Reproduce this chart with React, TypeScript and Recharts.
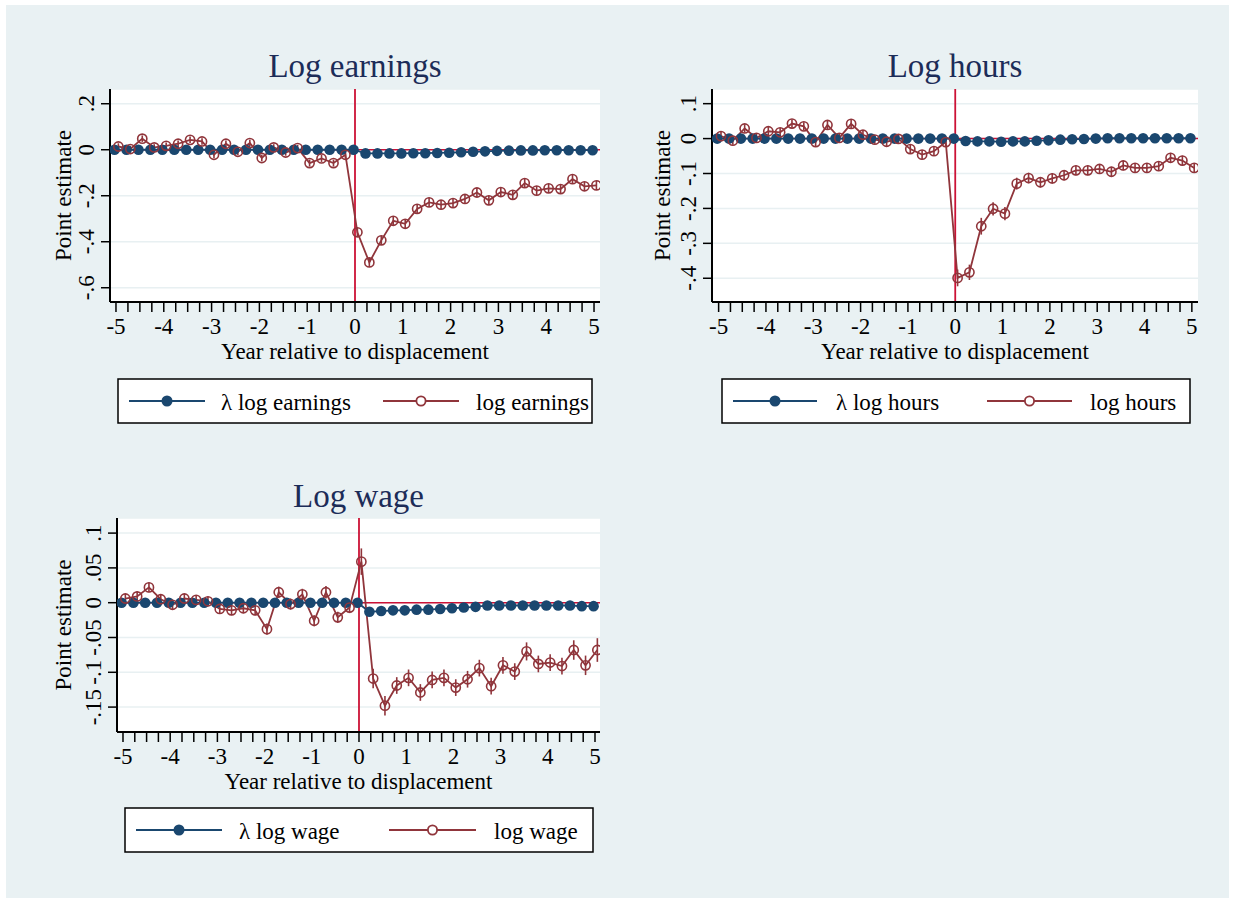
import React from 'react';
import { CartesianGrid, ErrorBar, Line, LineChart, ReferenceLine, XAxis, YAxis } from 'recharts';

// quarters relative to displacement
const quarters = [
  -5, -4.75, -4.5, -4.25, -4, -3.75, -3.5, -3.25, -3, -2.75, -2.5, -2.25, -2, -1.75, -1.5, -1.25, -1, -0.75, -0.5, -0.25,
  0, 0.25, 0.5, 0.75, 1, 1.25, 1.5, 1.75, 2, 2.25, 2.5, 2.75, 3, 3.25, 3.5, 3.75, 4, 4.25, 4.5, 4.75, 5,
];

// log earnings
const earnLambda = [
  0, 0, 0, 0, 0, 0, 0, 0, 0, 0, 0, 0, 0, 0, 0, 0, 0, 0, 0, 0,
  0, -0.016, -0.016, -0.016, -0.016, -0.015, -0.015, -0.014, -0.013, -0.011, -0.009, -0.007, -0.005, -0.004, -0.003, -0.003, -0.002, -0.002, -0.002, -0.002, -0.002,
];
const earnEst = [
  0.014, 0.003, 0.048, 0.01, 0.017, 0.026, 0.043, 0.036, -0.022, 0.026, -0.009, 0.029, -0.036, 0.01, -0.012, 0.007, -0.058, -0.038, -0.058, -0.022,
  -0.359, -0.49, -0.394, -0.309, -0.322, -0.257, -0.229, -0.239, -0.232, -0.214, -0.186, -0.22, -0.184, -0.196, -0.145, -0.178, -0.168, -0.171, -0.128, -0.159, -0.155,
];
const earnCi = [
  0.014, 0.014, 0.014, 0.014, 0.014, 0.014, 0.014, 0.014, 0.014, 0.014, 0.014, 0.014, 0.014, 0.014, 0.014, 0.014, 0.015, 0.015, 0.015, 0.015,
  0.02, 0.02, 0.02, 0.02, 0.02, 0.02, 0.02, 0.02, 0.02, 0.02, 0.02, 0.02, 0.02, 0.02, 0.02, 0.02, 0.02, 0.02, 0.02, 0.02, 0.02,
];

// log hours
const hoursLambda = [
  0, 0, 0, 0, 0, 0, 0, 0, 0, 0, 0, 0, 0, 0, 0, 0, 0, 0, 0, 0,
  0, -0.007, -0.008, -0.008, -0.009, -0.008, -0.008, -0.006, -0.005, -0.003, -0.002, -0.001, 0, 0.001, 0.001, 0.001, 0.001, 0.001, 0.001, 0.001, 0.001,
];
const hoursEst = [
  0.007, -0.006, 0.029, 0.002, 0.021, 0.018, 0.043, 0.035, -0.01, 0.039, 0.002, 0.042, 0.011, -0.003, -0.009, -0.001, -0.03, -0.046, -0.036, -0.01,
  -0.399, -0.383, -0.251, -0.201, -0.215, -0.129, -0.113, -0.125, -0.114, -0.105, -0.091, -0.091, -0.087, -0.095, -0.077, -0.084, -0.084, -0.079, -0.055, -0.063, -0.084,
];
const hoursCi = [
  0.012, 0.012, 0.012, 0.012, 0.012, 0.012, 0.012, 0.012, 0.012, 0.012, 0.012, 0.012, 0.012, 0.012, 0.012, 0.012, 0.013, 0.013, 0.013, 0.013,
  0.024, 0.022, 0.024, 0.019, 0.019, 0.017, 0.015, 0.015, 0.015, 0.014, 0.014, 0.014, 0.014, 0.014, 0.014, 0.014, 0.014, 0.014, 0.014, 0.014, 0.014,
];

// log wage
const wageLambda = [
  0, 0, 0, 0, 0, 0, 0, 0, 0, 0, 0, 0, 0, 0, 0, 0, 0, 0, 0, 0,
  0, -0.013, -0.012, -0.011, -0.011, -0.01, -0.01, -0.009, -0.008, -0.007, -0.006, -0.004, -0.004, -0.004, -0.004, -0.004, -0.004, -0.004, -0.004, -0.005, -0.005,
];
const wageEst = [
  0.006, 0.009, 0.022, 0.005, -0.003, 0.006, 0.004, 0.002, -0.009, -0.011, -0.008, -0.011, -0.038, 0.015, -0.002, 0.012, -0.026, 0.015, -0.021, -0.007,
  0.059, -0.109, -0.148, -0.119, -0.108, -0.129, -0.111, -0.108, -0.122, -0.11, -0.094, -0.12, -0.09, -0.099, -0.07, -0.088, -0.086, -0.091, -0.068, -0.09, -0.068,
];
const wageCi = [
  0.007, 0.007, 0.007, 0.007, 0.007, 0.007, 0.007, 0.007, 0.007, 0.007, 0.007, 0.007, 0.008, 0.008, 0.008, 0.008, 0.008, 0.009, 0.008, 0.008,
  0.019, 0.014, 0.014, 0.012, 0.012, 0.012, 0.012, 0.012, 0.012, 0.012, 0.012, 0.012, 0.012, 0.012, 0.013, 0.012, 0.012, 0.012, 0.014, 0.014, 0.017,
];

const earnTicks = [-0.6, -0.4, -0.2, 0, 0.2];
const hoursTicks = [-0.4, -0.3, -0.2, -0.1, 0, 0.1];
const wageTicks = [-0.15, -0.1, -0.05, 0, 0.05, 0.1];

const FONT = '"Liberation Serif", "Times New Roman", serif';
const NAVY = '#1a476f';
const MAROON = '#90353b';
const CRIMSON = '#cc1236';
const TITLE = '#1c2c58';
const GRID = '#e8f0f2';
const BG = '#e9f1f3';

// small horizontal offsets, the two series sit slightly apart in the original
const BLUE_SHIFT = -0.03;
const RED_SHIFT = 0.05;

const fmt = (v: number) =>
  v === 0 ? '0' : (v < 0 ? '-' : '') + String(Math.abs(v)).replace(/^0\./, '.');

const XTick = (props: any) => {
  const { x, y, payload } = props;
  if (!Number.isInteger(payload.value)) return null;
  return (
    <text x={x} y={y + 20} textAnchor="middle" fontFamily={FONT} fontSize={23} fill="#000">
      {payload.value}
    </text>
  );
};

const YTick = (props: any) => {
  const { x, y, payload } = props;
  return (
    <text x={x} y={y} transform={`rotate(-90 ${x} ${y})`} textAnchor="middle" fontFamily={FONT} fontSize={23} fill="#000">
      {fmt(payload.value)}
    </text>
  );
};

type Box = { left: number; top: number; width: number; height: number };

interface PanelProps {
  plot: Box;
  xDomain: [number, number];
  yDomain: [number, number];
  yTicks: number[];
  lambda: number[];
  est: number[];
  ci: number[];
}

const Panel: React.FC<PanelProps> = ({ plot, xDomain, yDomain, yTicks, lambda, est, ci }) => {
  const blue = quarters.map((q, i) => ({ x: q + BLUE_SHIFT, y: lambda[i] }));
  const red = quarters.map((q, i) => ({ x: q + RED_SHIFT, y: est[i], ci: ci[i] }));

  return (
    <div style={{ position: 'absolute', left: plot.left - 60, top: plot.top - 10 }}>
      <LineChart
        width={plot.width + 70}
        height={plot.height + 50}
        margin={{ top: 10, right: 10, bottom: 0, left: 0 }}
      >
        <CartesianGrid vertical={false} stroke={GRID} strokeWidth={1.5} fill="#ffffff" fillOpacity={1} />
        <XAxis
          type="number"
          dataKey="x"
          domain={xDomain}
          ticks={quarters}
          interval={0}
          allowDataOverflow
          height={40}
          tickSize={10}
          tickLine={{ stroke: '#000', strokeWidth: 1.5 }}
          axisLine={{ stroke: '#000', strokeWidth: 2 }}
          tick={<XTick />}
        />
        <YAxis
          type="number"
          domain={yDomain}
          ticks={yTicks}
          interval={0}
          allowDataOverflow
          width={60}
          tickSize={9}
          tickMargin={7}
          tickLine={{ stroke: '#000', strokeWidth: 1.5 }}
          axisLine={{ stroke: '#000', strokeWidth: 2 }}
          tick={<YTick />}
        />
        <ReferenceLine x={0} stroke={CRIMSON} strokeWidth={1.8} />
        <ReferenceLine y={0} stroke={CRIMSON} strokeWidth={1.5} />
        <Line
          data={blue}
          dataKey="y"
          stroke={NAVY}
          strokeWidth={1.8}
          dot={{ r: 5.3, fill: NAVY, stroke: NAVY, strokeWidth: 0 }}
          isAnimationActive={false}
        />
        <Line
          data={red}
          dataKey="y"
          stroke={MAROON}
          strokeWidth={1.8}
          dot={{ r: 4.6, fill: 'none', stroke: MAROON, strokeWidth: 1.6 }}
          isAnimationActive={false}
        >
          <ErrorBar dataKey="ci" width={0} stroke={MAROON} strokeWidth={1.6} direction="y" />
        </Line>
      </LineChart>
    </div>
  );
};

interface LegendSpec {
  box: Box;
  lineY: number;
  blueLine: [number, number];
  blueText: number;
  redLine: [number, number];
  redText: number;
  labels: [string, string];
}

const LegendBox: React.FC<{ spec: LegendSpec }> = ({ spec }) => {
  const { box, lineY, blueLine, blueText, redLine, redText, labels } = spec;
  return (
    <g>
      <rect x={box.left} y={box.top} width={box.width} height={box.height} fill="#fff" stroke="#000" strokeWidth={1.5} />
      <line x1={blueLine[0]} x2={blueLine[1]} y1={lineY} y2={lineY} stroke={NAVY} strokeWidth={2} />
      <circle cx={(blueLine[0] + blueLine[1]) / 2} cy={lineY} r={5.5} fill={NAVY} />
      <text x={blueText} y={lineY + 9} fontFamily={FONT} fontSize={23} fill="#000">{labels[0]}</text>
      <line x1={redLine[0]} x2={redLine[1]} y1={lineY} y2={lineY} stroke={MAROON} strokeWidth={2} />
      <circle cx={(redLine[0] + redLine[1]) / 2} cy={lineY} r={4.6} fill="#fff" stroke={MAROON} strokeWidth={1.8} />
      <text x={redText} y={lineY + 9} fontFamily={FONT} fontSize={23} fill="#000">{labels[1]}</text>
    </g>
  );
};

const AxisTitles: React.FC<{ plot: Box; yTitleX: number; xTitleY: number; title: string; titleY: number }> = ({
  plot,
  yTitleX,
  xTitleY,
  title,
  titleY,
}) => {
  const cx = plot.left + plot.width / 2 - 0;
  const cy = plot.top + plot.height / 2;
  return (
    <g fontFamily={FONT}>
      <text x={cx} y={titleY} textAnchor="middle" fontSize={33} fill={TITLE}>{title}</text>
      <text x={cx} y={xTitleY} textAnchor="middle" fontSize={23} fill="#000">Year relative to displacement</text>
      <text x={yTitleX} y={cy} transform={`rotate(-90 ${yTitleX} ${cy})`} textAnchor="middle" fontSize={23} fill="#000">
        Point estimate
      </text>
    </g>
  );
};

const earnPlot: Box = { left: 110, top: 89, width: 490, height: 213 };
const hoursPlot: Box = { left: 712, top: 89, width: 486, height: 213 };
const wagePlot: Box = { left: 117, top: 518, width: 483, height: 214 };

const earnLegend: LegendSpec = {
  box: { left: 118, top: 379, width: 474, height: 44 },
  lineY: 401,
  blueLine: [129, 205],
  blueText: 221,
  redLine: [383, 459],
  redText: 476,
  labels: ['λ log earnings', 'log earnings'],
};
const hoursLegend: LegendSpec = {
  box: { left: 722, top: 379, width: 468, height: 44 },
  lineY: 401,
  blueLine: [733, 817],
  blueText: 836,
  redLine: [987, 1072],
  redText: 1090,
  labels: ['λ log hours', 'log hours'],
};
const wageLegend: LegendSpec = {
  box: { left: 125, top: 808, width: 468, height: 44 },
  lineY: 830,
  blueLine: [136, 222],
  blueText: 239,
  redLine: [389, 476],
  redText: 494,
  labels: ['λ log wage', 'log wage'],
};

export default function App() {
  return (
    <div style={{ position: 'absolute', left: 0, top: 0, width: 1236, height: 898, background: '#fff', overflow: 'hidden' }}>
      <div style={{ position: 'absolute', left: 6, top: 5, width: 1223, height: 893, background: BG }} />
      <Panel plot={earnPlot} xDomain={[-5.125, 5.125]} yDomain={[-0.662, 0.264]} yTicks={earnTicks} lambda={earnLambda} est={earnEst} ci={earnCi} />
      <Panel plot={hoursPlot} xDomain={[-5.14, 5.13]} yDomain={[-0.468, 0.142]} yTicks={hoursTicks} lambda={hoursLambda} est={hoursEst} ci={hoursCi} />
      <Panel plot={wagePlot} xDomain={[-5.127, 5.106]} yDomain={[-0.1858, 0.1217]} yTicks={wageTicks} lambda={wageLambda} est={wageEst} ci={wageCi} />
      <svg width={1236} height={898} style={{ position: 'absolute', left: 0, top: 0, pointerEvents: 'none' }}>
        <AxisTitles plot={earnPlot} title="Log earnings" titleY={77} xTitleY={358.5} yTitleX={71} />
        <AxisTitles plot={hoursPlot} title="Log hours" titleY={77} xTitleY={358.5} yTitleX={670} />
        <AxisTitles plot={wagePlot} title="Log wage" titleY={507} xTitleY={788.5} yTitleX={71} />
        <LegendBox spec={earnLegend} />
        <LegendBox spec={hoursLegend} />
        <LegendBox spec={wageLegend} />
      </svg>
    </div>
  );
}
